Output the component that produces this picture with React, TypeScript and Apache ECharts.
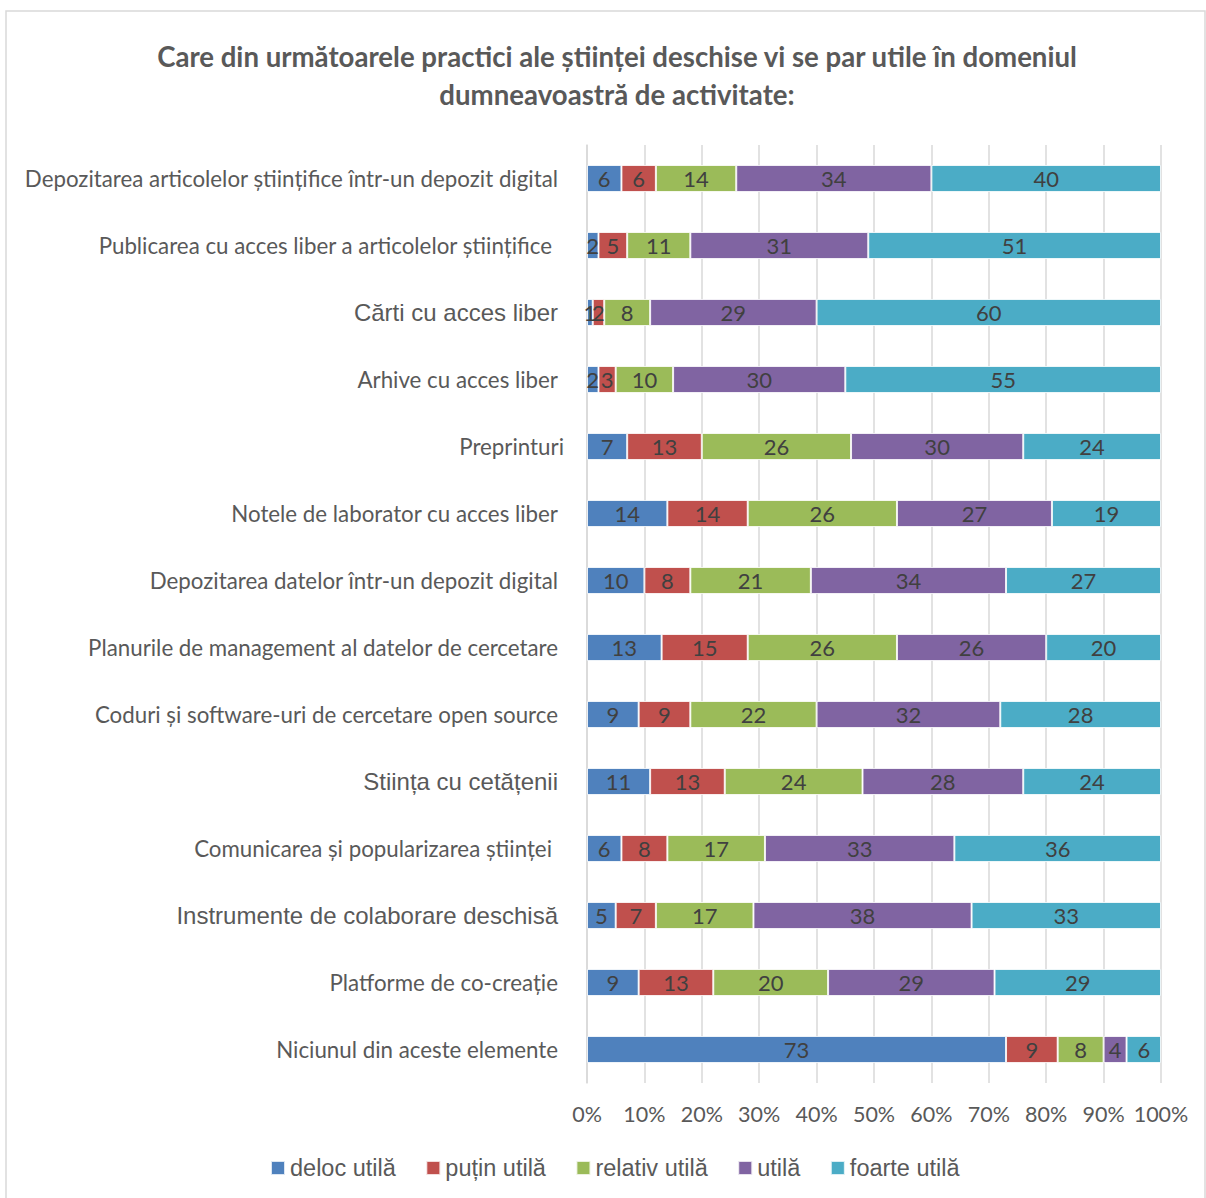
import React, { useEffect, useRef } from "react";
import * as echarts from "echarts";

const titleText =
  "Care din următoarele practici ale științei deschise vi se par utile în domeniul\ndumneavoastră de activitate:";

const categories = [
  "Depozitarea articolelor științifice într-un depozit digital",
  "Publicarea cu acces liber a articolelor științifice",
  "Cărti cu acces liber",
  "Arhive cu acces liber",
  "Preprinturi",
  "Notele de laborator cu acces liber",
  "Depozitarea datelor într-un depozit digital",
  "Planurile de management al datelor de cercetare",
  "Coduri și software-uri de cercetare open source",
  "Stiința cu cetățenii",
  "Comunicarea și popularizarea științei",
  "Instrumente de colaborare deschisă",
  "Platforme de co-creație",
  "Niciunul din aceste elemente",
];

// label style per category: c = Calibri-like, a = Arial-like (larger), p = padded, n = no pad
const labelStyles = ["c", "p", "a", "c", "n", "c", "c", "c", "c", "a", "p", "a", "c", "c"];

const seriesNames = ["deloc utilă", "puțin utilă", "relativ utilă", "utilă", "foarte utilă"];
const seriesColors = ["#4F81BD", "#C0504D", "#9BBB59", "#8064A2", "#4BACC6"];

const delocUtila = [6, 2, 1, 2, 7, 14, 10, 13, 9, 11, 6, 5, 9, 73];
const putinUtila = [6, 5, 2, 3, 13, 14, 8, 15, 9, 13, 8, 7, 13, 9];
const relativUtila = [14, 11, 8, 10, 26, 26, 21, 26, 22, 24, 17, 17, 20, 8];
const utila = [34, 31, 29, 30, 30, 27, 34, 26, 32, 28, 33, 38, 29, 4];
const foarteUtila = [40, 51, 60, 55, 24, 19, 27, 20, 28, 24, 36, 33, 29, 6];

const xTicks = [0, 10, 20, 30, 40, 50, 60, 70, 80, 90, 100];

const seriesData = [delocUtila, putinUtila, relativUtila, utila, foarteUtila];

export default function App() {
  const ref = useRef<HTMLDivElement>(null);
  useEffect(() => {
    if (!ref.current) return;
    const chart = echarts.init(ref.current, null, { renderer: "svg" });
    chart.setOption({
      animation: false,
      backgroundColor: "#ffffff",
      title: {
        text: titleText,
        left: 612,
        top: 32,
        textAlign: "center",
        textStyle: {
          fontFamily: "Lato",
          fontWeight: "bold",
          fontSize: 27.6,
          color: "#595959",
          lineHeight: 38,
        },
      },
      graphic: [
        {
          type: "rect",
          shape: { x: 6, y: 11, width: 1199, height: 1200 },
          style: { fill: "none", stroke: "#d9d9d9", lineWidth: 1.5 },
          silent: true,
        },
      ],
      legend: {
        left: 265,
        top: 1151,
        icon: "rect",
        itemWidth: 14,
        itemHeight: 14,
        itemGap: 29.5,
        data: seriesNames,
        textStyle: {
          fontFamily: "Liberation Sans",
          fontSize: 23.5,
          color: "#595959",
        },
      },
      grid: {
        left: 587,
        right: 45,
        top: 145,
        height: 938,
        containLabel: false,
      },
      xAxis: {
        type: "value",
        min: 0,
        max: 100,
        interval: 10,
        axisLine: { show: false },
        axisTick: { show: false },
        splitLine: { show: true, lineStyle: { color: "#d9d9d9", width: 1.5 } },
        axisLabel: {
          formatter: (v: number) => (xTicks.includes(v) ? v + "%" : ""),
          fontFamily: "Lato",
          fontSize: 21.5,
          color: "#595959",
          margin: 20,
        },
      },
      yAxis: {
        type: "category",
        inverse: true,
        data: categories,
        axisLine: { show: true, lineStyle: { color: "#d9d9d9", width: 1.5 } },
        axisTick: { show: false },
        axisLabel: {
          margin: 23,
          formatter: (v: string) => {
            const i = categories.indexOf(v);
            const s = labelStyles[i] || "c";
            return "{" + s + "|" + v + "}";
          },
          rich: {
            c: { fontFamily: "Lato", fontSize: 22.3, color: "#595959", padding: [0, 6, 0, 0] },
            p: { fontFamily: "Lato", fontSize: 22.3, color: "#595959", padding: [0, 12, 0, 0] },
            n: { fontFamily: "Lato", fontSize: 22.3, color: "#595959", padding: [0, 0, 0, 0] },
            a: { fontFamily: "Liberation Sans", fontSize: 24, color: "#595959", padding: [0, 6, 0, 0] },
          },
        },
      },
      series: seriesNames.map((name, k) => ({
        name,
        type: "bar",
        stack: "total",
        barWidth: 27,
        data: seriesData[k],
        itemStyle: {
          color: seriesColors[k],
          borderColor: "rgba(255,255,255,0.8)",
          borderWidth: 1,
        },
        label: {
          show: true,
          position: "inside",
          fontFamily: "Lato",
          fontSize: 22,
          color: "#404040",
        },
      })),
    });
    return () => chart.dispose();
  }, []);
  return (
    <div
      ref={ref}
      style={{ position: "absolute", left: 0, top: 0, width: 1206, height: 1198 }}
    />
  );
}
